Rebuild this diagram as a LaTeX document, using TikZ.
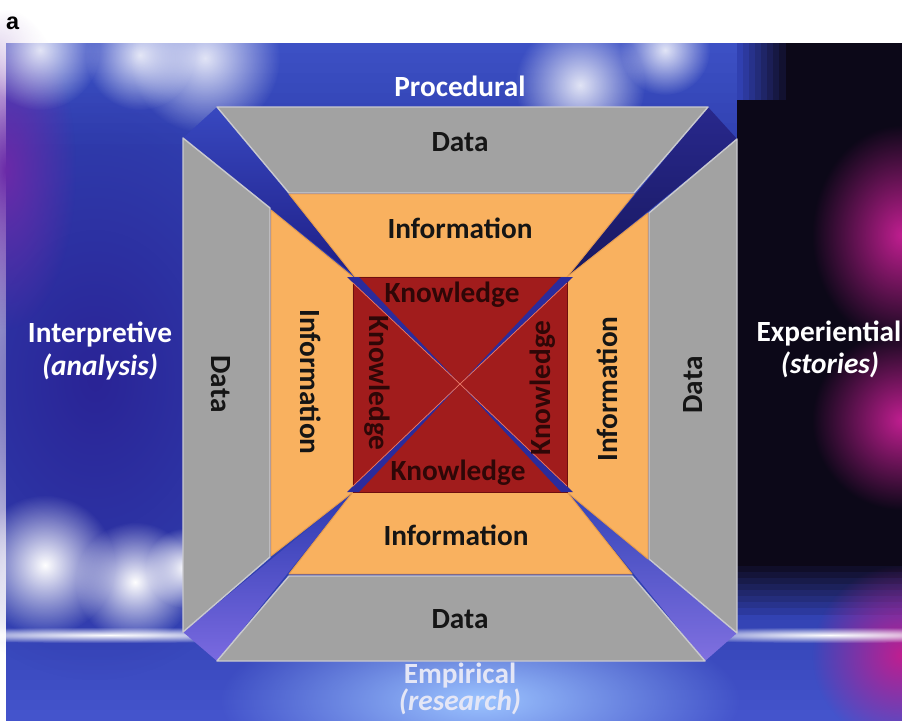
\documentclass[tikz,border=0pt]{standalone}
\usepackage{fontspec}
\setmainfont{Carlito}
\newfontfamily\panelfont{Liberation Sans}
\usepackage{tikz}
\usetikzlibrary{fadings}

\definecolor{bgblue}{HTML}{3040B0}
\definecolor{bgdeep}{HTML}{2A2496}
\definecolor{bgtop}{HTML}{3C50C4}
\definecolor{bgbottom}{HTML}{4454CC}
\definecolor{bgdark}{HTML}{0C0818}
\definecolor{bgpurple}{HTML}{6A2AA8}
\definecolor{bgmagenta}{HTML}{C01E90}
\definecolor{lightglow}{HTML}{9CC4FF}
\definecolor{datagray}{HTML}{A2A2A2}
\definecolor{datarim}{HTML}{C9C9CF}
\definecolor{infoorange}{HTML}{F9B15F}
\definecolor{inforim}{HTML}{E59C4E}
\definecolor{knowred}{HTML}{A11C1C}
\definecolor{knowrim}{HTML}{6E0E0E}
\definecolor{knowtext}{HTML}{2E0707}
\definecolor{diagblue}{HTML}{2B2B9C}
\definecolor{diaglight}{HTML}{F07A62}
\definecolor{labeldark}{HTML}{151515}
\definecolor{emptext}{HTML}{E4E6F6}

\tikzfading[name=glow, inner color=transparent!0, outer color=transparent!100]

\begin{document}
\begin{tikzpicture}[x=0.03cm, y=-0.03cm,
  piece/.style={line width=1.2pt, line join=round},
  datapiece/.style={piece, fill=datagray, draw=datarim},
  infopiece/.style={piece, fill=infoorange, draw=inforim, line width=0.8pt},
  lbl/.style={font=\fontsize{25}{30}\selectfont\bfseries, text=labeldark, inner sep=0pt},
  know/.style={lbl, text=knowtext},
  side/.style={lbl, text=white},
  sidenote/.style={side, font=\fontsize{25}{30}\selectfont\bfseries\itshape}]

\useasboundingbox (0,0) rectangle (902,720);

% background
\fill [bgblue] (6,43) rectangle (902,720);
\foreach \i in {0,...,9} {\pgfmathtruncatemacro\p{100-10*\i} \fill [bgtop!\p!bgblue] (6,43+10*\i) rectangle (790,54+10*\i);}
\foreach \i in {0,...,11} {\pgfmathtruncatemacro\p{9*\i} \fill [bgbottom!\p!bgblue] (6,600+10*\i) rectangle (902,611+10*\i);}

\fill [bgdark] (737,100) rectangle (902,560);
\fill [bgdark] (780,43) rectangle (902,100);
\foreach \i in {0,...,8} {\pgfmathtruncatemacro\p{100-11*\i} \fill [bgdark!\p!bgblue] (737,560+6*\i) rectangle (902,567+6*\i);}
\foreach \i in {0,...,7} {\pgfmathtruncatemacro\p{12*\i} \fill [bgdark!\p!bgblue] (737+6*\i,43) rectangle (744+6*\i,100);}

\fill [bgdeep, path fading=glow] (95,380) ellipse [x radius=220, y radius=300];
\fill [bgpurple, path fading=glow] (6,170) ellipse [x radius=70, y radius=160];
\foreach \y/\r in {235/110, 420/90, 655/90} {\fill [bgmagenta, path fading=glow] (902,\y) ellipse [x radius=90, y radius=\r];}
\foreach \x/\y/\r in {40/50/60, 140/55/55, 205/58/75, 580/85/65, 665/50/45} {\fill [white, path fading=glow, opacity=0.85] (\x,\y) circle (\r);}
\foreach \x/\y/\r in {45/565/70, 135/582/60, 185/568/40} {\fill [white, path fading=glow] (\x,\y) circle (\r);}

\fill [lightglow, path fading=glow] (480,700) ellipse [x radius=260, y radius=90];
\fill [white, path fading=glow] (110,635) ellipse [x radius=260, y radius=8];
\fill [white, path fading=glow] (830,635) ellipse [x radius=220, y radius=8];

% wedges between the pieces
\shade [top color={rgb,255:red,56;green,72;blue,192}, bottom color={rgb,255:red,30;green,30;blue,134}] (183,138) -- (217,107) -- (356,277) -- cycle;
\shade [top color={rgb,255:red,40;green,40;blue,140}, middle color={rgb,255:red,6;green,6;blue,26}, bottom color={rgb,255:red,24;green,24;blue,96}] (708,107) -- (737,139) -- (567,277) -- cycle;
\shade [top color={rgb,255:red,44;green,58;blue,176}, bottom color={rgb,255:red,122;green,106;blue,224}] (353,492) -- (183,632) -- (217,661) -- cycle;
\shade [top color={rgb,255:red,52;green,68;blue,184}, bottom color={rgb,255:red,128;green,112;blue,224}] (567,492) -- (737,633) -- (705,661) -- cycle;

% data
\draw [datapiece] (217,107) -- (708,107) -- (634,193) -- (289,193) -- cycle;
\draw [datapiece] (183,138) -- (270,208) -- (270,557) -- (183,632) -- cycle;
\draw [datapiece] (737,139) -- (737,633) -- (649,559) -- (649,213) -- cycle;
\draw [datapiece] (289,576) -- (632,576) -- (705,661) -- (217,661) -- cycle;

% information
\draw [infopiece] (289,194) -- (634,194) -- (567,277) -- (355,277) -- cycle;
\draw [infopiece] (271,210) -- (353,277) -- (353,492) -- (271,556) -- cycle;
\draw [infopiece] (648,213) -- (567,277) -- (567,492) -- (648,559) -- cycle;
\draw [infopiece] (353,492) -- (567,492) -- (632,574) -- (289,574) -- cycle;

% knowledge
\filldraw [fill=knowred, draw=knowrim, line width=0.8pt] (353,277) rectangle (567,492);
\foreach \cx/\cy/\dy in {353/277/6, 567/277/6, 567/492/-6, 353/492/-6} {
  \fill [diagblue] (\cx-6,\cy) -- (\cx+6,\cy) -- (460,384) -- cycle;
  \draw [diaglight, line width=0.6pt] (\cx,\cy+\dy) -- (460,384);
}

\node (dataN) [lbl] at (460,142) {Data};
\node (infoN) [lbl] at (460,228) {Information};
\node (knowN) [know] at (452,295) {Knowledge};
\node (dataW) [lbl, rotate=-90] at (221,384) {Data};
\node (infoW) [lbl, rotate=-90] at (311,382) {Information};
\node (knowW) [know, rotate=-90] at (377,383) {Knowledge};
\node (dataE) [lbl, rotate=90] at (693,385) {Data};
\node (infoE) [lbl, rotate=90] at (607,389) {Information};
\node (knowE) [know, rotate=90] at (543,388) {Knowledge};
\node (knowS) [know] at (458,473) {Knowledge};
\node (infoS) [lbl] at (456,535) {Information};
\node (dataS) [lbl] at (460,619) {Data};

\node (procedural) [side] at (460,86) {Procedural};
\node (interpretive) [side] at (100,334) {Interpretive};
\node (analysis) [sidenote] at (100,367) {(analysis)};
\node (experiential) [side] at (829,333) {Experiential};
\node (stories) [sidenote] at (830,365) {(stories)};
\node (empirical) [side, text=emptext] at (460,676) {Empirical};
\node (research) [sidenote, text=emptext] at (460,702) {(research)};

\node (panel) [anchor=west, inner sep=0pt, font=\panelfont\bfseries\fontsize{20}{24}\selectfont] at (6,23) {a};

\end{tikzpicture}
\end{document}
